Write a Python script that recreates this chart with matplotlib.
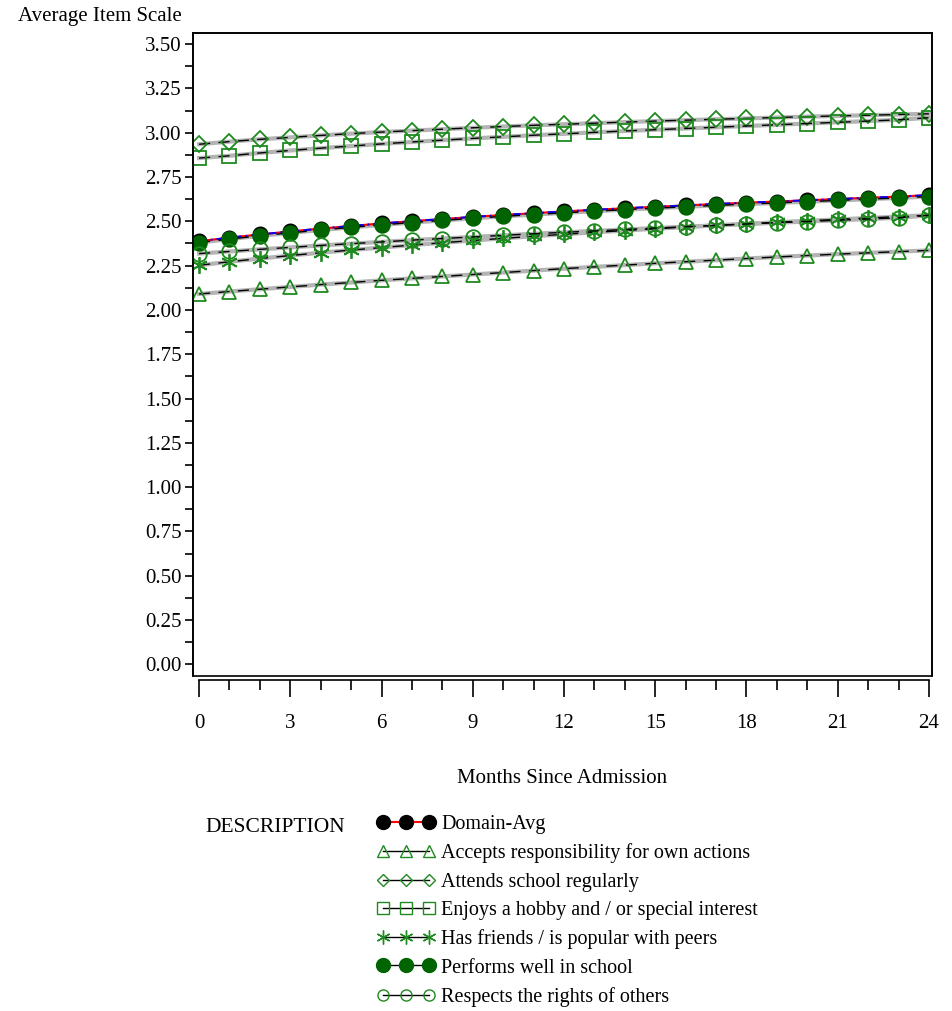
import matplotlib
matplotlib.use('Agg')
import matplotlib.pyplot as plt
from matplotlib.lines import Line2D
from matplotlib.patches import Rectangle
from matplotlib.ticker import MultipleLocator, FixedLocator

plt.rcParams['font.family'] = ['Liberation Serif', 'DejaVu Serif']

# ---- data ----
months = list(range(25))

domain_avg = [2.388, 2.408, 2.426, 2.443, 2.459, 2.474, 2.488, 2.501, 2.513, 2.525,
              2.536, 2.546, 2.556, 2.565, 2.574, 2.582, 2.590, 2.598, 2.605, 2.612,
              2.619, 2.626, 2.633, 2.640, 2.648]
accepts = [2.090, 2.104, 2.117, 2.130, 2.143, 2.155, 2.167, 2.178, 2.189, 2.200,
           2.211, 2.222, 2.233, 2.243, 2.253, 2.263, 2.272, 2.281, 2.290, 2.299,
           2.307, 2.315, 2.322, 2.329, 2.336]
attends = [2.935, 2.950, 2.963, 2.974, 2.985, 2.995, 3.004, 3.012, 3.020, 3.028,
           3.035, 3.042, 3.048, 3.054, 3.060, 3.066, 3.071, 3.076, 3.081, 3.086,
           3.091, 3.095, 3.099, 3.103, 3.107]
enjoys = [2.857, 2.870, 2.886, 2.900, 2.913, 2.925, 2.937, 2.948, 2.958, 2.968,
          2.977, 2.986, 2.994, 3.002, 3.010, 3.017, 3.024, 3.031, 3.038, 3.045,
          3.052, 3.059, 3.066, 3.073, 3.085]
friends = [2.252, 2.272, 2.290, 2.307, 2.323, 2.338, 2.352, 2.366, 2.379, 2.392,
           2.404, 2.416, 2.427, 2.438, 2.448, 2.458, 2.468, 2.477, 2.486, 2.495,
           2.503, 2.511, 2.519, 2.527, 2.535]
performs = [2.380, 2.400, 2.418, 2.435, 2.451, 2.466, 2.480, 2.493, 2.505, 2.517,
            2.528, 2.538, 2.548, 2.557, 2.566, 2.574, 2.582, 2.590, 2.597, 2.604,
            2.611, 2.618, 2.625, 2.632, 2.640]
respects = [2.318, 2.330, 2.342, 2.353, 2.364, 2.374, 2.384, 2.394, 2.403, 2.412,
            2.421, 2.430, 2.438, 2.446, 2.454, 2.462, 2.470, 2.477, 2.485, 2.492,
            2.499, 2.506, 2.513, 2.520, 2.534]

GREEN = '#1f8a1f'
DKGREEN = '#006400'
ASTER = (6, 2, 0)   # six-armed asterisk

items = [
    ('Accepts responsibility for own actions', accepts, '^', 'none', GREEN),
    ('Attends school regularly', attends, 'D', 'none', GREEN),
    ('Enjoys a hobby and / or special interest', enjoys, 's', 'none', GREEN),
    ('Has friends / is popular with peers', friends, ASTER, GREEN, GREEN),
    ('Performs well in school', performs, 'o', DKGREEN, DKGREEN),
    ('Respects the rights of others', respects, 'o', 'none', GREEN),
]
plot_ms = {'^': 10.5, 'D': 8, 's': 10, 'o': 10.5}

fig = plt.figure(figsize=(9.52, 10.11), dpi=100)
ax = fig.add_axes([193/952, 1 - 676/1011, (932-193)/952, (676-33)/1011])

# domain average: red line, blue dashed overlay, black dots
ax.plot(months, domain_avg, color='red', lw=1.5, marker='o', ms=10.5,
        mfc='black', mec='black', zorder=3)
ax.plot(months, domain_avg, color='blue', lw=1.4, ls=(0, (4, 2, 1, 2)), zorder=4)

for label, vals, mk, fc, ec in items:
    ax.plot(months, vals, color='#b4b4b4', lw=3, zorder=2)
    ms = 12 if mk == ASTER else plot_ms[mk]
    ax.plot(months, vals, color='black', lw=1, ls=(0, (8, 6)),
            marker=mk, ms=ms, mfc=fc, mec=ec, mew=1.3, zorder=5)

ax.set_xlim(-0.2, 24.1)
ax.set_ylim(-0.066, 3.563)

ax.yaxis.set_major_locator(MultipleLocator(0.25))
ax.yaxis.set_minor_locator(MultipleLocator(0.125))
ax.yaxis.set_major_formatter(plt.FuncFormatter(lambda v, p: f'{v:.2f}'))
ax.xaxis.set_major_locator(FixedLocator(range(0, 25, 3)))
ax.xaxis.set_minor_locator(FixedLocator(range(0, 25)))

ax.tick_params(axis='y', which='major', direction='out', length=6, width=1.2,
               labelsize=15, pad=2)
ax.tick_params(axis='y', which='minor', direction='out', length=6, width=1.2)
ax.tick_params(axis='x', which='major', direction='out', length=12, width=1.2,
               labelsize=15, pad=12)
ax.tick_params(axis='x', which='minor', direction='out', length=7, width=1.2)

for s in ['top', 'right', 'left']:
    ax.spines[s].set_linewidth(1.2)
ax.spines['bottom'].set_position(('outward', 3))
ax.spines['bottom'].set_bounds(0, 24)
ax.spines['bottom'].set_linewidth(1.2)
ax.add_patch(Rectangle((0, 0), 1, 1, transform=ax.transAxes, fill=False,
                       lw=1.2, ec='black', zorder=10, clip_on=False))

ax.set_xlabel('Months Since Admission', fontsize=15, labelpad=26)
fig.text(18/952, 1 - 17/1011, 'Average Item Scale', fontsize=15,
         ha='left', va='center')

# legend
handles = [Line2D([], [], color='red', lw=1.5, marker='o', ms=10,
                  mfc='black', mec='black')]
labels = ['Domain-Avg']
for label, vals, mk, fc, ec in items:
    if mk == ASTER:
        lms = 10
    elif mk == 'D':
        lms = 6
    elif fc == DKGREEN:
        lms = 10
    else:
        lms = 8
    handles.append(Line2D([], [], color='black', lw=1, marker=mk,
                          ms=lms, mfc=fc, mec=ec, mew=1))
    labels.append(label)

fig.legend(handles, labels, loc='upper left',
           bbox_to_anchor=(377/952, 1 - 815/1011), frameon=False,
           numpoints=3, handlelength=2.9, handletextpad=0.3,
           labelspacing=0.46, fontsize=14.5, borderpad=0, borderaxespad=0)
fig.text(205/952, 1 - 828/1011, 'DESCRIPTION', fontsize=15.5,
         ha='left', va='center')

fig.savefig('out.png', dpi=100)
